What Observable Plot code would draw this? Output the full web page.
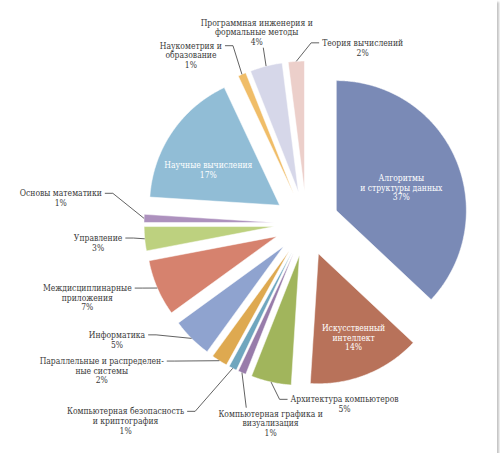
<!DOCTYPE html>
<html>
<head>
<meta charset="utf-8">
<script src="https://cdn.jsdelivr.net/npm/d3@7"></script>
<script src="https://cdn.jsdelivr.net/npm/@observablehq/plot@0.6"></script>
<style>
  body { margin: 0; background: #fff; }
  #chart { width: 497px; height: 453px; box-shadow: 2px 2px 2px #c4c4c4; overflow: hidden; background: #fff; }
</style>
</head>
<body>
<div id="chart"></div>
<script>
// slices, clockwise from 12 o'clock
const categories = [
  "Алгоритмы\nи структуры данных",
  "Искусственный\nинтеллект",
  "Архитектура компьютеров",
  "Компьютерная графика и\nвизуализация",
  "Компьютерная безопасность\nи криптография",
  "Параллельные и распределен-\nные системы",
  "Информатика",
  "Междисциплинарные\nприложения",
  "Управление",
  "Основы математики",
  "Научные вычисления",
  "Наукометрия и\nобразование",
  "Программная инженерия и\nформальные методы",
  "Теория вычислений"
];
const shares = [37, 14, 5, 1, 1, 2, 5, 7, 3, 1, 17, 1, 4, 2];
const colors = [
  "#7a8ab6", "#b8725a", "#a1b55c", "#987caa", "#6fa6be", "#dea950", "#8fa3cf",
  "#d6826e", "#bdd17f", "#ad91be", "#91bdd6", "#f0bd68", "#d6d7e9", "#eccfca"
];

// label placement (polar, around the pie centre: degrees clockwise, radius multiples)
const labelSpots = [
  {deg: 69.2, dist: 0.78, side: "inside"},
  {deg: 157.6, dist: 0.95, side: "inside"},
  {deg: 168.1, dist: 1.42, side: "left"},
  {deg: 190.2, dist: 1.56, side: "top"},
  {deg: 222.5, dist: 2.06, side: "right"},
  {deg: 234.3, dist: 1.94, side: "right"},
  {deg: 238.5, dist: 1.71, side: "right"},
  {deg: 251.3, dist: 1.78, side: "right"},
  {deg: 264.7, dist: 1.61, side: "right"},
  {deg: 275.9, dist: 1.90, side: "right"},
  {deg: 298.6, dist: 0.86, side: "inside"},
  {deg: 325.5, dist: 1.57, side: "right"},
  {deg: 345.4, dist: 1.52, side: "bottom"},
  {deg: 17.7, dist: 1.42, side: "left"}
];

const W = 497, H = 453;
const cx = 306, cy = 223, R = 130;   // pie centre and radius, px
const explode = 0.25;                // slice offset, in radii
const fontFamily = "'DejaVu Serif Condensed', 'DejaVu Serif', serif";
const fontSize = 8.5, lineH = 9.6;

const pol = (a, r) => [r * Math.sin(a), r * Math.cos(a)];

const arcs = d3.pie().sort(null).value(d => d)(shares);

// slice outlines
const slicePts = [];
arcs.forEach((a, i) => {
  const mid = (a.startAngle + a.endAngle) / 2;
  const [ox, oy] = pol(mid, explode);
  const n = Math.max(2, Math.ceil((a.endAngle - a.startAngle) / (Math.PI / 360)) + 1);
  slicePts.push({name: categories[i], x: ox, y: oy});
  for (let k = 0; k < n; k++) {
    const t = a.startAngle + (a.endAngle - a.startAngle) * k / (n - 1);
    const [px, py] = pol(t, 1);
    slicePts.push({name: categories[i], x: ox + px, y: oy + py});
  }
  slicePts.push({name: categories[i], x: ox, y: oy});
});

// text width measure
const ctx = document.createElement("canvas").getContext("2d");
ctx.font = `${fontSize}px ${fontFamily}`;

const labels = [];
const leaders = [];
arcs.forEach((a, i) => {
  const spot = labelSpots[i];
  const [lx, ly] = pol(spot.deg * Math.PI / 180, spot.dist);
  const text = categories[i] + "\n" + shares[i] + "%";
  const lines = text.split("\n");
  labels.push({text, x: lx, y: ly, inside: spot.side === "inside"});
  if (spot.side === "inside") return;

  const mid = (a.startAngle + a.endAngle) / 2;
  const [sx, sy] = pol(mid, explode + 1);
  const w = d3.max(lines, l => ctx.measureText(l).width) / R;
  const firstY = ly + (lines.length - 1) * lineH / 2 / R;
  let pts;
  if (spot.side === "right") {
    const ex = lx + w / 2 + 3 / R;
    pts = [[sx, sy], [ex + 8 / R, firstY], [ex, firstY]];
  } else if (spot.side === "left") {
    const ex = lx - w / 2 - 3 / R;
    pts = [[sx, sy], [ex - 8 / R, firstY], [ex, firstY]];
  } else if (spot.side === "top") {
    const top = ly + (lines.length * lineH / 2 + 1) / R;
    pts = [[sx, sy], [sx + (lx - sx) * 0.15, top]];
  } else {
    const bottom = ly - (lines.length * lineH / 2 + 1) / R;
    pts = [[sx, sy], [sx + (lx - sx) * 0.3, bottom]];
  }
  pts.forEach(p => leaders.push({name: categories[i], x: p[0], y: p[1]}));
});

const chart = Plot.plot({
  width: W,
  height: H,
  margin: 0,
  style: {fontFamily, fontSize: fontSize + "px", background: "#fff"},
  x: {domain: [-cx / R, (W - cx) / R], axis: null},
  y: {domain: [-(H - cy) / R, cy / R], axis: null},
  color: {domain: categories, range: colors},
  marks: [
    Plot.line(slicePts, {x: "x", y: "y", z: "name", fill: "name", stroke: "white", strokeWidth: 0.5, curve: "linear"}),
    Plot.line(leaders, {x: "x", y: "y", z: "name", stroke: "#3a3a3a", strokeWidth: 0.8, strokeLinecap: "butt"}),
    Plot.text(labels, {
      x: "x", y: "y", text: "text",
      fill: d => d.inside ? "white" : "#3a3a3a",
      lineHeight: lineH / fontSize,
      textAnchor: "middle"
    })
  ]
});

document.querySelector("#chart").append(chart);
</script>
</body>
</html>
